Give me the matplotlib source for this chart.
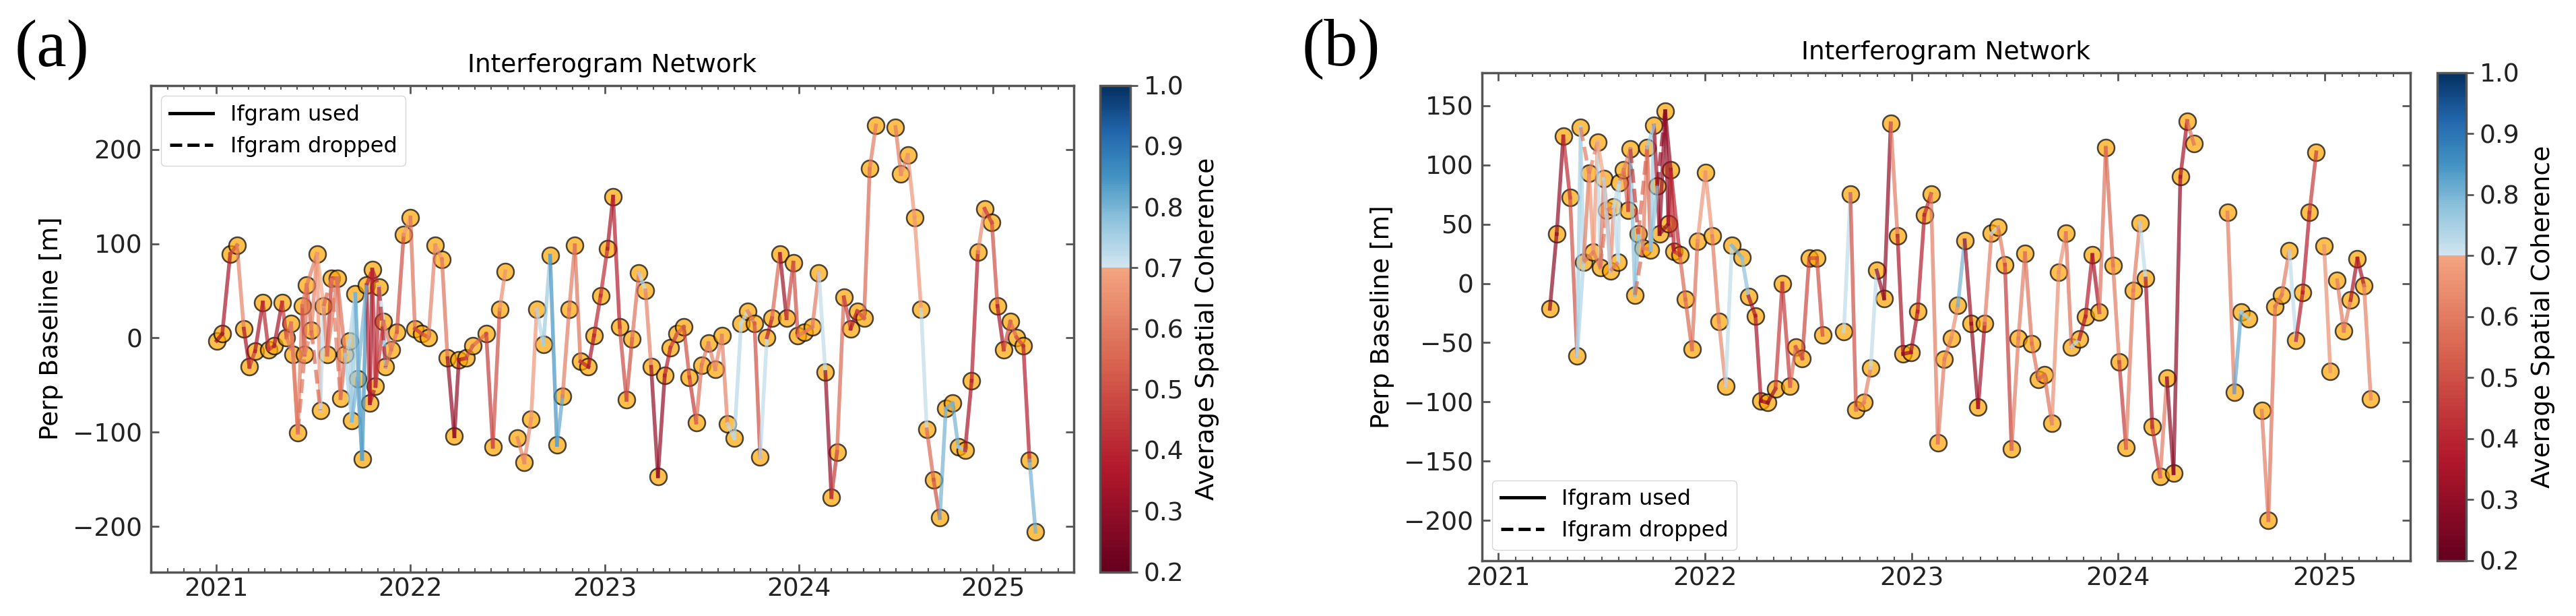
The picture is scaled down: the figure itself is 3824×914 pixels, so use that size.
import numpy as np
import matplotlib
matplotlib.use("Agg")
import matplotlib as mpl
import matplotlib.pyplot as plt
from matplotlib.colors import ListedColormap, Normalize
from matplotlib.lines import Line2D
from matplotlib.ticker import MultipleLocator

# ---------------- panel (a) ----------------
dates_a = [
    2021.002, 2021.031, 2021.072, 2021.107, 2021.142, 2021.171, 2021.200, 2021.240, 2021.269, 2021.298,
    2021.339, 2021.362, 2021.385, 2021.397, 2021.420, 2021.443, 2021.455, 2021.466, 2021.490, 2021.519,
    2021.536, 2021.553, 2021.571, 2021.594, 2021.623, 2021.640, 2021.664, 2021.687, 2021.698, 2021.716,
    2021.727, 2021.751, 2021.774, 2021.791, 2021.803, 2021.820, 2021.838, 2021.861, 2021.872, 2021.901,
    2021.930, 2021.965, 2022.000, 2022.023, 2022.058, 2022.093, 2022.128, 2022.162, 2022.191, 2022.226,
    2022.249, 2022.286, 2022.320, 2022.390, 2022.424, 2022.459, 2022.488, 2022.551, 2022.586, 2022.621,
    2022.650, 2022.684, 2022.719, 2022.754, 2022.783, 2022.817, 2022.846, 2022.875, 2022.916, 2022.945,
    2022.979, 2023.014, 2023.043, 2023.077, 2023.112, 2023.141, 2023.176, 2023.210, 2023.239, 2023.274,
    2023.309, 2023.338, 2023.372, 2023.407, 2023.436, 2023.471, 2023.499, 2023.534, 2023.569, 2023.603,
    2023.632, 2023.667, 2023.702, 2023.736, 2023.771, 2023.800, 2023.835, 2023.861, 2023.902, 2023.936,
    2023.971, 2023.994, 2024.029, 2024.069, 2024.102, 2024.136, 2024.167, 2024.196, 2024.231, 2024.266,
    2024.300, 2024.335, 2024.364, 2024.396, 2024.497, 2024.525, 2024.560, 2024.595, 2024.629, 2024.658,
    2024.693, 2024.725, 2024.756, 2024.791, 2024.820, 2024.855, 2024.889, 2024.921, 2024.956, 2024.993,
    2025.022, 2025.054, 2025.088, 2025.120, 2025.155, 2025.187, 2025.218,
]
pbase_a = [
    -2.9, 4.4, 89.1, 98.3, 9.9, -30.6, -14.0, 37.6, -12.2, -8.5,
    37.6, 0.7, 15.5, -17.7, -100.2, 33.9, -17.7, 56.0, 8.1, 89.1,
    -76.6, 33.9, -17.7, 63.4, 63.4, -63.7, -17.7, -2.9, -87.7, 46.8,
    -43.5, -128.2, 56.0, -69.2, 72.6, -50.8, 54.1, 17.3, -30.6, -12.2,
    6.3, 109.4, 127.8, 9.9, 4.4, 0.7, 98.3, 83.6, -21.4, -104.2,
    -23.2, -21.4, -8.5, 4.4, -115.3, 30.2, 70.7, -106.1, -131.9, -85.8,
    30.2, -6.6, 87.3, -113.4, -61.9, 30.2, 98.3, -25.0, -30.6, 2.6,
    44.9, 94.7, 149.9, 11.8, -65.6, -1.1, 68.9, 50.5, -30.6, -146.6,
    -39.8, -10.3, 4.4, 11.8, -41.6, -89.5, -28.7, -5.5, -33.2, 2.6,
    -91.3, -106.1, 15.5, 28.4, 15.5, -126.3, 0.7, 21.0, 89.1, 21.0,
    79.9, 2.6, 6.3, 11.8, 68.9, -36.1, -168.7, -120.8, 43.1, 9.9,
    28.4, 21.0, 179.4, 225.4, 223.6, 173.8, 194.1, 127.8, 30.2, -96.9,
    -150.3, -190.8, -74.8, -69.2, -115.3, -119.0, -45.3, 91.0, 137.0, 122.3,
    33.9, -12.2, 17.3, 0.7, -8.5, -130.0, -205.5,
]
# coherence of ifgram (i, i+1); None = no ifgram
coh_next_a = [
    0.30, 0.35, 0.50, 0.62, 0.35, 0.45, 0.35, 0.40, 0.45, 0.35,
    0.45, 0.55, 0.60, 0.62, 0.60, 0.50, 0.58, 0.55, 0.62, 0.66,
    0.72, 0.60, 0.45, 0.50, 0.60, 0.55, 0.72, 0.75, 0.76, 0.74,
    0.82, 0.85, 0.40, 0.35, 0.40, 0.42, 0.72, 0.78, 0.60, 0.60,
    0.50, 0.68, 0.58, 0.45, 0.50, 0.62, 0.66, 0.58, 0.30, 0.30,
    0.35, 0.50, 0.55, 0.45, 0.50, 0.65, None, 0.62, 0.64, 0.66,
    0.73, 0.76, 0.85, 0.82, 0.60, 0.60, 0.58, 0.40, 0.35, 0.40,
    0.42, 0.35, 0.38, 0.48, 0.50, 0.58, 0.72, 0.62, 0.30, 0.30,
    0.38, 0.45, 0.55, 0.50, 0.45, 0.58, 0.60, 0.62, 0.64, 0.62,
    0.72, 0.73, 0.72, 0.60, 0.50, 0.72, 0.38, 0.55, 0.32, 0.48,
    0.50, 0.60, 0.60, 0.60, 0.72, 0.30, 0.45, 0.55, 0.45, 0.35,
    0.50, 0.55, 0.60, None, 0.60, 0.65, 0.66, 0.66, 0.72, 0.55,
    0.50, 0.80, 0.80, 0.80, 0.75, 0.35, 0.38, 0.64, 0.45, 0.50,
    0.35, 0.50, 0.55, 0.50, 0.38, 0.80,
]
# longer ifgrams: (ref idx, sec idx, coherence, used)
extra_a = [
    (11, 13, 0.60, False), (12, 14, 0.60, True), (14, 16, 0.58, False), (15, 17, 0.60, True),
    (16, 18, 0.62, False), (17, 19, 0.60, True), (18, 20, 0.55, False), (19, 21, 0.70, True),
    (21, 23, 0.55, False), (22, 24, 0.60, True), (23, 25, 0.60, False), (24, 26, 0.58, True),
    (26, 28, 0.75, True), (27, 29, 0.74, True), (28, 30, 0.80, True), (29, 31, 0.82, True),
    (30, 32, 0.80, True), (32, 34, 0.40, False), (33, 35, 0.38, False), (34, 36, 0.40, False),
    (35, 37, 0.45, True), (36, 38, 0.42, False), (37, 39, 0.60, True),
]

# ---------------- panel (b) ----------------
dates_b = [
    2021.249, 2021.282, 2021.314, 2021.347, 2021.381, 2021.398, 2021.412, 2021.439, 2021.460, 2021.480,
    2021.493, 2021.510, 2021.525, 2021.542, 2021.558, 2021.580, 2021.585, 2021.607, 2021.628, 2021.639,
    2021.661, 2021.677, 2021.699, 2021.720, 2021.737, 2021.753, 2021.769, 2021.780, 2021.807, 2021.823,
    2021.834, 2021.850, 2021.878, 2021.905, 2021.937, 2021.964, 2022.002, 2022.035, 2022.067, 2022.100,
    2022.130, 2022.179, 2022.211, 2022.244, 2022.271, 2022.303, 2022.341, 2022.374, 2022.412, 2022.439,
    2022.471, 2022.504, 2022.542, 2022.569, 2022.672, 2022.704, 2022.731, 2022.769, 2022.802, 2022.831,
    2022.867, 2022.899, 2022.932, 2022.959, 2022.997, 2023.029, 2023.062, 2023.094, 2023.127, 2023.159,
    2023.192, 2023.224, 2023.257, 2023.289, 2023.322, 2023.354, 2023.387, 2023.419, 2023.452, 2023.484,
    2023.517, 2023.549, 2023.582, 2023.614, 2023.643, 2023.679, 2023.712, 2023.747, 2023.774, 2023.812,
    2023.842, 2023.875, 2023.909, 2023.940, 2023.975, 2024.005, 2024.038, 2024.073, 2024.105, 2024.133,
    2024.165, 2024.203, 2024.236, 2024.268, 2024.301, 2024.334, 2024.366, 2024.529, 2024.562, 2024.595,
    2024.633, 2024.695, 2024.727, 2024.760, 2024.792, 2024.828, 2024.861, 2024.893, 2024.926, 2024.959,
    2024.997, 2025.027, 2025.060, 2025.092, 2025.125, 2025.158, 2025.190, 2025.223,
]
pbase_b = [
    -21.4, 41.6, 124.0, 72.4, -61.0, 131.7, 17.9, 92.7, 26.4, 119.1,
    13.5, 88.3, 61.9, 10.6, 64.8, 17.9, 85.3, 96.0, 61.9, 113.2,
    -9.7, 41.6, 29.9, 114.7, 28.4, 133.1, 82.4, 41.6, 145.2, 50.4,
    96.0, 27.0, 24.0, -13.5, -55.7, 35.8, 93.8, 39.9, -32.3, -86.5,
    32.0, 21.7, -11.1, -27.3, -99.1, -100.6, -88.9, 0.0, -86.5, -53.7,
    -63.3, 21.1, 21.1, -43.4, -40.5, 75.4, -106.5, -100.6, -71.3, 10.9,
    -12.6, 134.9, 40.2, -59.5, -58.1, -23.8, 57.8, 75.4, -134.3, -63.9,
    -46.3, -18.5, 36.4, -34.0, -104.4, -34.0, 42.2, 47.5, 15.8, -139.6,
    -46.3, 25.5, -50.7, -80.9, -77.1, -118.2, 9.4, 42.5, -53.7, -46.9,
    -27.9, 24.0, -24.3, 114.4, 15.2, -66.3, -138.7, -5.9, 51.0, 4.1,
    -121.1, -163.0, -80.1, -160.1, 90.0, 137.0, 117.9, 59.8, -91.8, -24.3,
    -29.6, -107.3, -199.7, -19.4, -9.7, 27.6, -47.8, -7.6, 59.8, 110.6,
    31.4, -74.0, 2.7, -40.0, -14.0, 21.0, -1.7, -97.3,
]
coh_next_b = [
    0.28, 0.30, 0.42, 0.50, 0.75, 0.74, 0.60, 0.66, 0.68, 0.72,
    0.60, 0.62, 0.60, 0.64, 0.72, 0.72, 0.60, 0.55, 0.45, 0.78,
    0.78, 0.76, 0.60, 0.55, 0.76, 0.35, 0.30, 0.30, 0.30, 0.35,
    0.40, 0.45, 0.55, 0.55, 0.58, 0.66, 0.66, 0.60, 0.64, 0.72,
    0.80, 0.78, 0.35, 0.35, 0.30, 0.30, 0.45, 0.45, 0.58, 0.50,
    0.48, 0.50, 0.50, None, 0.72, 0.50, 0.60, 0.62, 0.72, 0.30,
    0.30, 0.60, 0.35, 0.30, 0.35, 0.38, 0.40, 0.60, 0.60, 0.60,
    0.65, 0.80, 0.32, 0.30, 0.35, 0.60, 0.72, 0.60, 0.45, 0.60,
    0.60, 0.58, 0.58, 0.55, 0.58, 0.65, 0.65, 0.58, 0.72, 0.35,
    0.38, 0.35, 0.58, 0.55, 0.60, 0.45, 0.60, 0.60, 0.72, 0.35,
    0.45, 0.60, 0.28, 0.28, 0.35, 0.58, None, 0.60, 0.82, 0.74,
    None, 0.60, 0.58, 0.58, 0.60, 0.72, 0.38, 0.38, 0.45, None,
    0.65, None, 0.60, 0.60, 0.35, 0.35, 0.62,
]
extra_b = [
    (4, 6, 0.74, True), (5, 7, 0.60, False), (6, 8, 0.60, False), (7, 9, 0.62, False),
    (8, 10, 0.60, True), (9, 11, 0.70, True), (10, 12, 0.58, False), (11, 13, 0.72, True),
    (12, 14, 0.60, False), (13, 15, 0.60, False), (14, 16, 0.72, True), (17, 19, 0.62, True),
    (19, 21, 0.45, False), (20, 22, 0.55, False), (21, 23, 0.55, False), (22, 24, 0.60, False),
    (23, 25, 0.76, True), (24, 26, 0.78, True), (26, 28, 0.30, False), (27, 29, 0.30, False),
    (28, 30, 0.30, True), (29, 31, 0.35, False), (30, 32, 0.40, True),
]

yticks_a = [-200, -100, 0, 100, 200]
yticks_b = [-200, -150, -100, -50, 0, 50, 100, 150]
cbar_ticks = [0.2, 0.3, 0.4, 0.5, 0.6, 0.7, 0.8, 0.9, 1.0]

FS = 27
SPINE = "#555555"
W, H = 3824, 914


def coherence_cmap():
    # RdBu with the white middle removed, split at the 0.7 threshold
    base = mpl.colormaps["RdBu"]
    low = base(np.linspace(0.0, 0.3, 160))
    high = base(np.linspace(0.6, 1.0, 96))
    return ListedColormap(np.vstack([low, high]), name="RdBu_truncate")


def build_pairs(coh_next, extra):
    pairs = []
    for i, c in enumerate(coh_next):
        if c is not None:
            pairs.append((i, i + 1, c, True))
    pairs.extend(extra)
    return pairs


def px_box(left, top, right, bottom):
    return [left / W, 1 - bottom / H, (right - left) / W, (bottom - top) / H]


def draw_network(fig, ax_box, cax_box, dates, pbase, pairs, xlim, ylim, yticks,
                 legend_loc, cmap, norm):
    ax = fig.add_axes(ax_box)
    cax = fig.add_axes(cax_box)

    ax.plot(dates, pbase, "ko", ms=18, mfc="orange", mew=1.8, alpha=0.7, zorder=2)
    for i, j, c, used in pairs:
        ax.plot([dates[i], dates[j]], [pbase[i], pbase[j]],
                ls="-" if used else "--", lw=4, color=cmap(norm(c)),
                alpha=0.7, zorder=3)

    ax.set_xlim(*xlim)
    ax.set_ylim(*ylim)
    ax.xaxis.set_major_locator(MultipleLocator(1))
    ax.xaxis.set_minor_locator(MultipleLocator(1 / 12))
    ax.xaxis.set_major_formatter(plt.FuncFormatter(lambda v, p: f"{int(round(v))}"))
    ax.set_yticks(yticks)
    ax.tick_params(which="both", direction="in", top=True, right=True,
                   color=SPINE, labelsize=FS, labelcolor="#222222")
    ax.tick_params(which="major", length=8.5, width=2)
    ax.tick_params(which="minor", length=4, width=1.5)
    ax.tick_params(axis="x", pad=6)
    ax.tick_params(axis="y", pad=9)
    for sp in ax.spines.values():
        sp.set_color(SPINE)
        sp.set_linewidth(2.5)

    ax.set_ylabel("Perp Baseline [m]", fontsize=FS, labelpad=10)
    ax.set_title("Interferogram Network", fontsize=FS, pad=14)

    handles = [Line2D([], [], color="k", lw=3.5, ls="-", label="Ifgram used"),
               Line2D([], [], color="k", lw=3.5, ls="--", label="Ifgram dropped")]
    ax.legend(handles=handles, loc=legend_loc, fontsize=23)

    sm = mpl.cm.ScalarMappable(norm=norm, cmap=cmap)
    cbar = fig.colorbar(sm, cax=cax)
    cbar.set_ticks(cbar_ticks)
    cbar.ax.tick_params(direction="out", length=8, width=2, color=SPINE,
                        labelsize=FS, labelcolor="#222222", pad=6)
    cbar.outline.set_edgecolor(SPINE)
    cbar.outline.set_linewidth(2.5)
    cbar.set_label("Average Spatial Coherence", fontsize=FS, labelpad=12)
    return ax


cmap = coherence_cmap()
norm = Normalize(vmin=0.2, vmax=1.0)

fig = plt.figure(figsize=(W / 100, H / 100), dpi=100)

draw_network(fig, px_box(223.5, 126.5, 1593.5, 848.5), px_box(1633, 126.5, 1678, 848.5),
             dates_a, pbase_a, build_pairs(coh_next_a, extra_a),
             (2020.662, 2025.413), (-248, 268), yticks_a, "upper left", cmap, norm)
draw_network(fig, px_box(2199.5, 107.5, 3578, 832), px_box(3618, 107.5, 3661, 832),
             dates_b, pbase_b, build_pairs(coh_next_b, extra_b),
             (2020.919, 2025.414), (-234, 178), yticks_b, "lower left", cmap, norm)

fig.text(22 / W, 1 - 74 / H, "(a)", family="Liberation Serif", fontsize=72,
         ha="left", va="center")
fig.text(1933 / W, 1 - 73 / H, "(b)", family="Liberation Serif", fontsize=72,
         ha="left", va="center")

fig.savefig("out.png", dpi=100)
plt.close(fig)
